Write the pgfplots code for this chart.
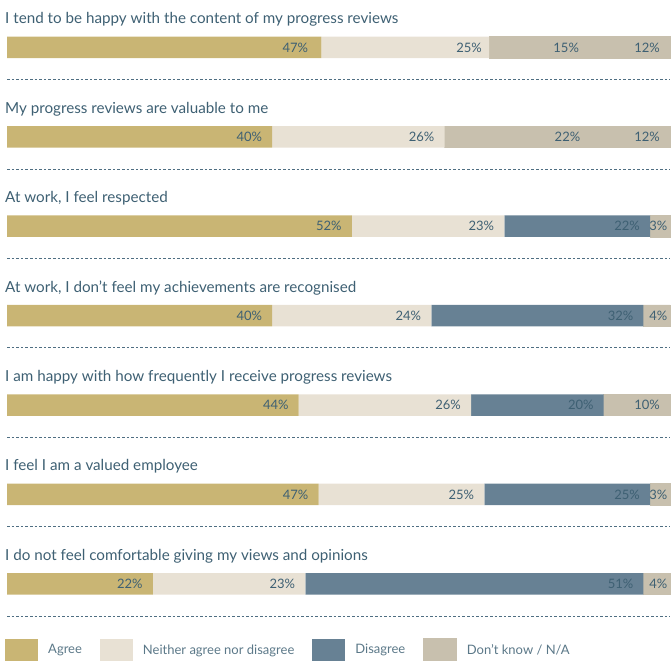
\documentclass[border=0pt]{standalone}
\usepackage{pgfplots}
\usepackage{pgfplotstable}
\usepackage{fontspec}
\setmainfont{Lato}
\pgfplotsset{compat=1.18}
\definecolor{agree}{HTML}{C9B574}
\definecolor{neither}{HTML}{E8E1D4}
\definecolor{disagree}{HTML}{678194}
\definecolor{dk}{HTML}{C8C0AE}
\definecolor{txt}{HTML}{3E6073}
\definecolor{dashcol}{HTML}{4F6E82}

\tikzset{ttl/.style={anchor=base west, xshift=-2pt, inner sep=0pt, text=txt, font=\fontsize{15.2}{18}\selectfont}}

\pgfplotsset{
  base/.style={
    scale only axis,
    width=663pt, height=616pt,
    xmin=0, xmax=100,
    ymin=-0.53, ymax=6.36,
    y dir=reverse,
    clip=false,
  },
  boxlegend/.style={legend image code/.code={\fill[##1] (0pt,-11.5pt) rectangle (33pt,11.5pt);}},
}

% segment values (per row 0..6)
\pgfplotstableread{
row agree neither dis disgrey dk
0 47.4 25.3 0  15.1 12.2
1 40   26   0  22   12
2 52   23   22 0    3
3 40   24   32 0    4
4 44   26   20 0    10
5 47   25   25 0    3
6 22   23   51 0    4
}\data

% label anchors (right end of each segment) and printed percentages
\pgfplotstableread{
x y lab
46.95 0 47
73.15 0 25
87.8 0 15
100 0 12
40 1 40
66 1 26
88 1 22
100 1 12
52 2 52
75 2 23
97 2 22
40 3 40
64 3 24
96 3 32
44 4 44
70 4 26
90 4 20
100 4 10
47 5 47
72 5 25
97 5 25
22 6 22
45 6 23
96 6 51
}\labelsBig
\pgfplotstableread{
x y lab
100 2 3
100 3 4
100 5 3
100 6 4
}\labelsSmall

\begin{document}
\begin{tikzpicture}
\begin{axis}[
  base,
  name=a,
  xbar stacked,
  bar width=21.5pt,
  axis line style={draw=none},
  xtick=\empty, ytick=\empty,
  extra y ticks={0.36,1.36,2.36,3.36,4.36,5.36,6.36},
  extra y tick labels={},
  extra y tick style={grid=major, tick style={draw=none},
     major grid style={dashcol, line width=0.8pt, dash pattern=on 2.6pt off 2pt}},
  boxlegend,
  legend columns=4,
  legend style={at={(axis description cs:0,0)}, anchor=north west,
     xshift=-2pt, yshift=-22pt, draw=none, fill=none,
     font=\fontsize{13}{15}\selectfont, text=txt!85!white,
     /tikz/every odd column/.append style={column sep=8pt},
     /tikz/every even column/.append style={column sep=16pt},
     inner sep=0pt},
]
\addplot[fill=agree, draw=none] table[x=agree, y=row] {\data};
\addplot[fill=neither, draw=none] table[x=neither, y=row] {\data};
\addplot[fill=disagree, draw=none] table[x=dis, y=row] {\data};
\addplot[fill=dk, draw=dk, line width=0.6pt] table[x=disgrey, y=row] {\data};
\addplot[fill=dk, draw=dk, line width=0.6pt] table[x=dk, y=row] {\data};
\legend{Agree, Neither agree nor disagree, Disagree, Don't know / N/A}

\node[ttl] at (axis cs:0,-0.263) {I tend to be happy with the content of my progress reviews};
\node[ttl] at (axis cs:0,0.737) {My progress reviews are valuable to me};
\node[ttl] at (axis cs:0,1.737) {At work, I feel respected};
\node[ttl] at (axis cs:0,2.737) {At work, I don't feel my achievements are recognised};
\node[ttl] at (axis cs:0,3.737) {I am happy with how frequently I receive progress reviews};
\node[ttl] at (axis cs:0,4.737) {I feel I am a valued employee};
\node[ttl] at (axis cs:0,5.737) {I do not feel comfortable giving my views and opinions};
\end{axis}

\begin{axis}[base, hide axis,
  point meta=explicit symbolic,
  nodes near coords={\pgfplotspointmeta\%},
]
\addplot[draw=none, mark=none,
  every node near coord/.style={anchor=east, xshift=-10pt, inner sep=0pt, text=txt, font=\fontsize{13}{15}\selectfont}]
  table[x=x, y=y, meta=lab] {\labelsBig};
\addplot[draw=none, mark=none,
  every node near coord/.style={anchor=east, xshift=-2.5pt, inner sep=0pt, text=txt, font=\fontsize{13}{15}\selectfont}]
  table[x=x, y=y, meta=lab] {\labelsSmall};
\end{axis}

\pgfresetboundingbox
\path ([xshift=-7pt,yshift=-45pt]a.south west) rectangle ([xshift=2pt]a.north east);
\end{tikzpicture}
\end{document}
